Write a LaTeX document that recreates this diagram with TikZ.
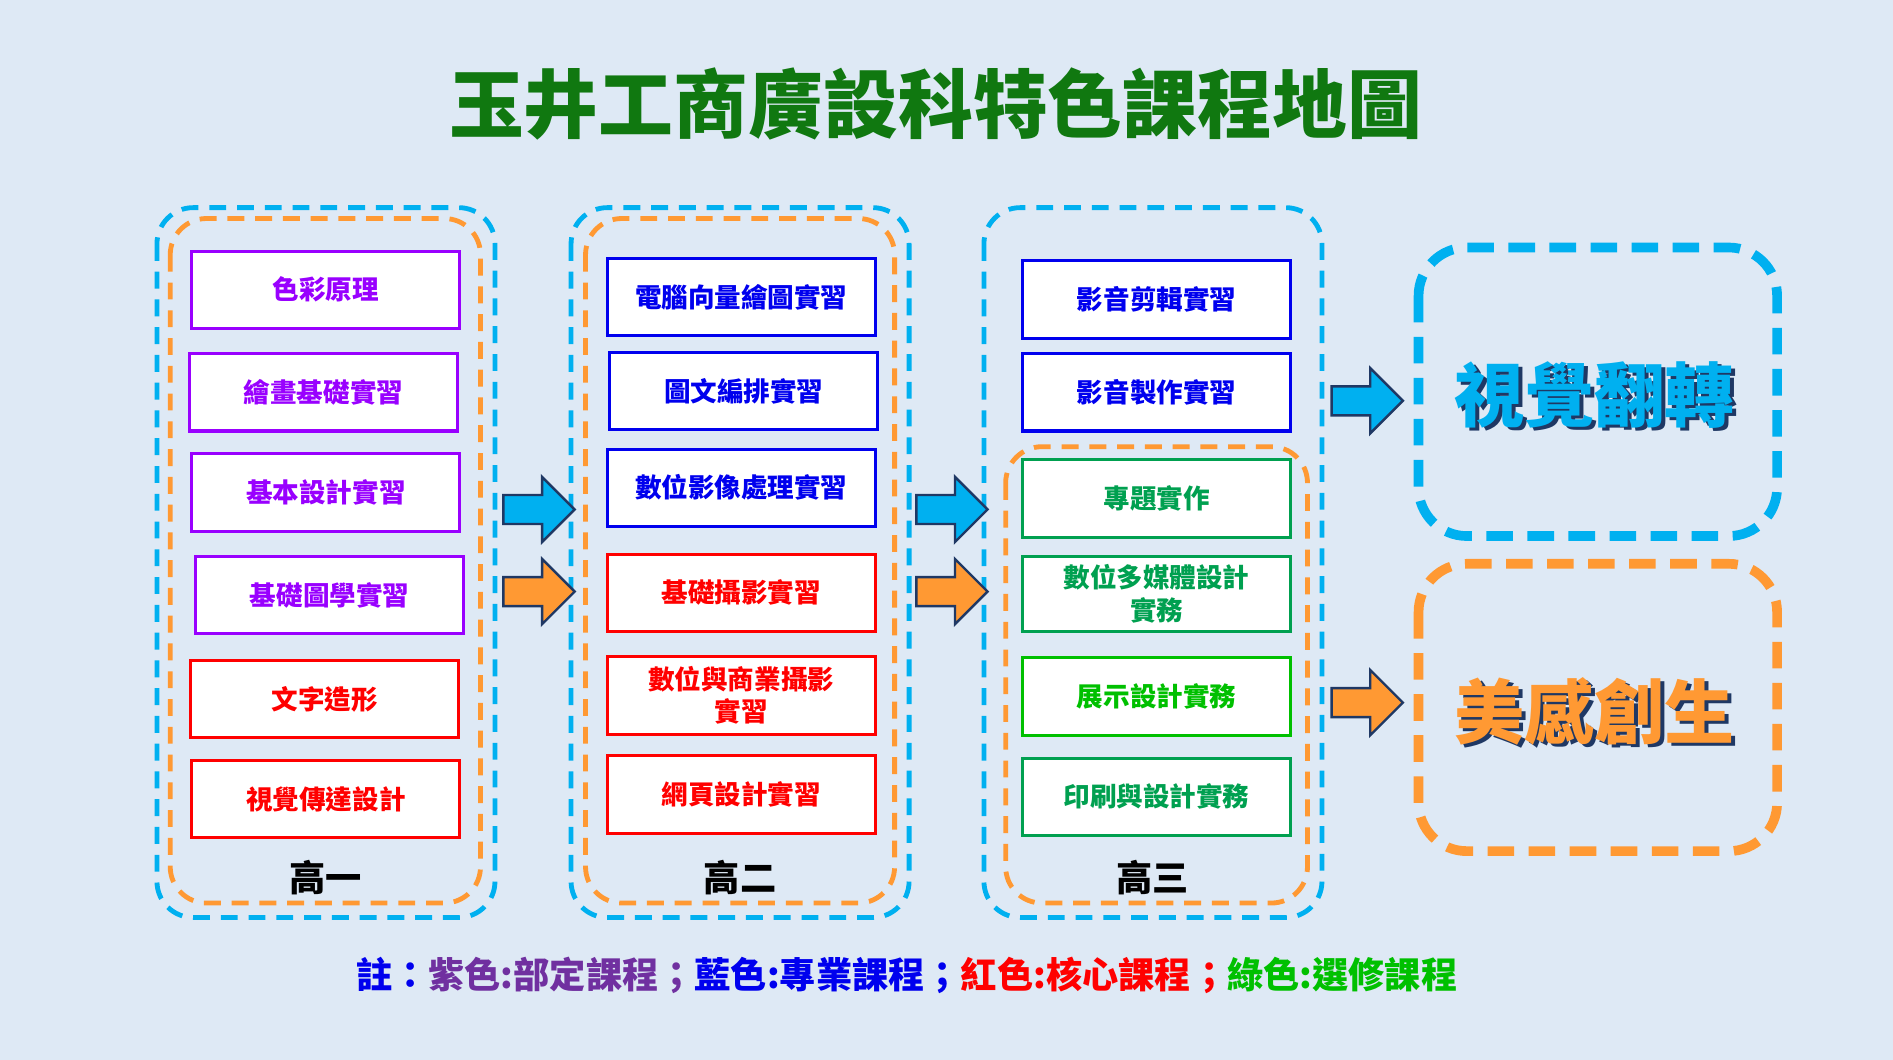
\documentclass[tikz,border=0pt]{standalone}
\usepackage{fontspec}
\setmainfont{Noto Sans CJK TC}[BoldFont={Noto Sans CJK TC Black}]
\usetikzlibrary{positioning}
\definecolor{bg}{HTML}{DEE9F5}
\definecolor{dblue}{HTML}{00B0F0}
\definecolor{dorange}{HTML}{FF9933}
\definecolor{cpur}{HTML}{9900FF}
\definecolor{cblue}{HTML}{0000EE}
\definecolor{cred}{HTML}{FF0000}
\definecolor{cgreen}{HTML}{00A050}
\definecolor{cgreen2}{HTML}{00C000}
\definecolor{ttl}{HTML}{107810}
\definecolor{arr}{HTML}{1F3864}
\definecolor{fpur}{HTML}{7030A0}
\begin{document}
\begin{tikzpicture}[x=1pt,y=-1pt,
  course/.style={draw=#1,line width=2.5pt,fill=white,text=#1,minimum width=222pt,minimum height=64pt,inner sep=1pt,align=center,font=\fontsize{22}{24}\selectfont\bfseries},
  bdash/.style={draw=dblue,line width=4pt,dash pattern=on 14pt off 9pt,rounded corners=30pt},
  odash/.style={draw=dorange,line width=4pt,dash pattern=on 14pt off 9pt,rounded corners=30pt},
  big/.style={line width=8pt,dash pattern=on 22pt off 12pt,rounded corners=40pt},
  grade/.style={font=\fontsize{30}{32}\selectfont\bfseries,text=black},
  barrow/.style={draw=arr,line width=2pt,fill=#1}]
\fill[bg] (0,0) rectangle (1568,878);
\useasboundingbox (0,0) rectangle (1568,878);
\node[text=ttl,font=\fontsize{62}{66}\selectfont\bfseries] (title) at (775,86) {玉井工商廣設科特色課程地圖};
% columns
\draw[bdash] (130,172) rectangle (410,760);
\draw[odash] (141,181) rectangle (398,748);
\draw[bdash] (473,172) rectangle (753,760);
\draw[odash] (485,181) rectangle (741,748);
\draw[bdash] (815,172) rectangle (1095,760);
\draw[odash] (833,370) rectangle (1083,748);
% col1
\node[course=cpur] (a1) at (270,240) {色彩原理};
\node[course=cpur] (a2) at (268,325) {繪畫基礎實習};
\node[course=cpur] (a3) at (270,408) {基本設計實習};
\node[course=cpur] (a4) at (273,493) {基礎圖學實習};
\node[course=cred] (a5) at (269,579) {文字造形};
\node[course=cred] (a6) at (270,662) {視覺傳達設計};
\node[grade] (g1) at (270,727) {高一};
% col2
\node[course=cblue] (b1) at (614,246) {電腦向量繪圖實習};
\node[course=cblue] (b2) at (616,324) {圖文編排實習};
\node[course=cblue] (b3) at (614,404) {數位影像處理實習};
\node[course=cred] (b4) at (614,491) {基礎攝影實習};
\node[course=cred,font=\fontsize{22}{27}\selectfont\bfseries] (b5) at (614,576) {數位與商業攝影\\實習};
\node[course=cred] (b6) at (614,658) {網頁設計實習};
\node[grade] (g2) at (613,727) {高二};
% col3
\node[course=cblue] (c1) at (958,248) {影音剪輯實習};
\node[course=cblue] (c2) at (958,325) {影音製作實習};
\node[course=cgreen] (c3) at (958,413) {專題實作};
\node[course=cgreen,font=\fontsize{22}{27}\selectfont\bfseries,minimum height=62pt] (c4) at (958,492) {數位多媒體設計\\實務};
\node[course=cgreen2] (c5) at (958,577) {展示設計實務};
\node[course=cgreen] (c6) at (958,660) {印刷與設計實務};
\node[grade] (g3) at (955,727) {高三};
% right boxes
\draw[big,draw=dblue] (1175,205) rectangle (1472,444);
\draw[big,draw=dorange] (1175,467) rectangle (1472,705);
\node[font=\fontsize{58}{60}\selectfont\bfseries,text=arr] at (1324,330) {視覺翻轉};
\node[font=\fontsize{58}{60}\selectfont\bfseries,text=dblue] (r1) at (1321,327) {視覺翻轉};
\node[font=\fontsize{58}{60}\selectfont\bfseries,text=arr] at (1324,592) {美感創生};
\node[font=\fontsize{58}{60}\selectfont\bfseries,text=dorange] (r2) at (1321,589) {美感創生};
% arrows
\foreach \x/\y/\c in {417/422/dblue,417/490/dorange,759/422/dblue,759/490/dorange,1103/332/dblue,1103/582/dorange}{
  \draw[barrow=\c] (\x,\y-12) -- (\x+32,\y-12) -- (\x+32,\y-27) -- (\x+59,\y) -- (\x+32,\y+27) -- (\x+32,\y+12) -- (\x,\y+12) -- cycle;
}
% footer
\node[font=\fontsize{30}{32}\selectfont\bfseries] (foot) at (751,808) {\textcolor{cblue}{註：}\textcolor{fpur}{紫色:部定課程；}\textcolor{cblue}{藍色:專業課程；}\textcolor{cred}{紅色:核心課程；}\textcolor{cgreen2}{綠色:選修課程}};
\end{tikzpicture}
\end{document}
